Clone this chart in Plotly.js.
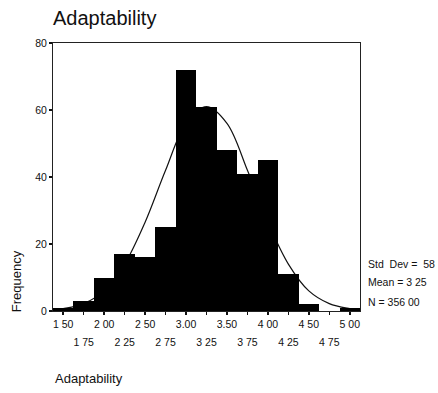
<!DOCTYPE html>
<html>
<head>
<meta charset="utf-8">
<script src="https://cdn.plot.ly/plotly-3.0.1.min.js"></script>
<style>html,body{margin:0;padding:0;background:#fff;}#chart{width:438px;height:393px;}</style>
</head>
<body>
<div id="chart"></div>
<script>
// Histogram bins (bin centres, width 0.25) and frequencies
const binCenters = [1.50, 1.75, 2.00, 2.25, 2.50, 2.75, 3.00, 3.25, 3.50, 3.75, 4.00, 4.25, 4.50, 4.75, 5.00];
const frequencies = [1, 3, 10, 17, 16, 25, 72, 61, 48, 41, 45, 11, 2, 0, 1];

// Tick labels as printed (two staggered rows)
const row1Vals = [1.50, 2.00, 2.50, 3.00, 3.50, 4.00, 4.50, 5.00];
const row1Text = ['1 50', '2 00', '2 50', '3.00', '3.50', '4 00', '4 50', '5 00'];
const row2Vals = [1.75, 2.25, 2.75, 3.25, 3.75, 4.25, 4.75];
const row2Text = ['1 75', '2 25', '2 75', '3 25', '3 75', '4 25', '4 75'];

// Normal curve points
const curveX = [1.375, 1.50, 1.75, 2.00, 2.25, 2.50, 2.75, 3.00, 3.25, 3.50, 3.75, 4.00, 4.25, 4.50, 4.75, 5.00, 5.125];
const curveY = [0.3, 0.7, 2.2, 6.0, 14.0, 26.5, 42.0, 56.0, 61.0, 56.0, 42.0, 26.5, 14.0, 6.0, 2.2, 0.7, 0.3];

// Statistics box
const statLines = ['Std  Dev =  58', 'Mean = 3 25', 'N = 356 00'];

const xRange = [1.375, 5.125];
const yRange = [0, 80];
const font = 'Arial, "Liberation Sans", sans-serif';

const traces = [
  {
    type: 'scatter', mode: 'lines', x: curveX, y: curveY,
    xaxis: 'x', yaxis: 'y',
    line: {color: '#111', width: 1.2, shape: 'spline', smoothing: 1},
    hoverinfo: 'skip', showlegend: false
  },
  {
    type: 'bar', x: binCenters, y: frequencies, width: 0.25,
    xaxis: 'x3', yaxis: 'y2',
    marker: {color: '#000', line: {width: 0}},
    showlegend: false
  },
  {
    type: 'scatter', mode: 'markers', x: row2Vals, y: row2Vals.map(() => null),
    xaxis: 'x2', yaxis: 'y', showlegend: false, hoverinfo: 'skip'
  }
];

const statY = [0.175, 0.108, 0.034];
const annotations = statLines.map((t, i) => ({
  text: t, xref: 'paper', yref: 'paper', x: 1.02, y: statY[i],
  xanchor: 'left', yanchor: 'middle', showarrow: false,
  font: {family: font, size: 10.5, color: '#111'}
}));
annotations.push({
  text: 'Frequency', xref: 'paper', yref: 'paper', x: -0.118, y: 0.11,
  xanchor: 'center', yanchor: 'middle', textangle: -90, showarrow: false,
  font: {family: font, size: 13, color: '#111'}
});
annotations.push({
  text: 'Adaptability', xref: 'paper', yref: 'paper', x: 0, y: -0.25,
  xanchor: 'left', yanchor: 'middle', showarrow: false,
  font: {family: font, size: 13, color: '#111'}
});

const tickFont = {family: font, size: 10.5, color: '#111'};

const layout = {
  width: 438, height: 393,
  margin: {l: 53, r: 78, t: 43, b: 82},
  paper_bgcolor: '#fff', plot_bgcolor: '#fff',
  bargap: 0,
  title: {
    text: 'Adaptability', x: 53 / 438, xref: 'container', xanchor: 'left',
    y: 1 - 18 / 393, yref: 'container', yanchor: 'middle',
    font: {family: font, size: 20, color: '#111'}
  },
  xaxis: {
    range: xRange, tickmode: 'array', tickvals: row1Vals, ticktext: row1Text,
    ticks: 'outside', ticklen: 3, tickcolor: '#111', tickwidth: 1.5,
    showgrid: false, zeroline: false,
    showline: true, linecolor: '#222', linewidth: 1, mirror: true,
    tickfont: tickFont, fixedrange: true
  },
  xaxis2: {
    overlaying: 'x', anchor: 'y', side: 'bottom',
    range: xRange, tickmode: 'array', tickvals: row2Vals, ticktext: row2Text,
    ticks: 'outside', ticklen: 3, tickcolor: '#111', tickwidth: 1.5,
    ticklabelstandoff: 18,
    showgrid: false, zeroline: false, showline: false,
    tickfont: tickFont, fixedrange: true
  },
  xaxis3: {
    overlaying: 'x', anchor: 'y2', range: xRange,
    showticklabels: false, ticks: '', showgrid: false, zeroline: false, showline: false,
    fixedrange: true
  },
  yaxis: {
    range: yRange, tickmode: 'array', tickvals: [0, 20, 40, 60, 80],
    ticks: 'outside', ticklen: 3, tickcolor: '#111', tickwidth: 1.5,
    showgrid: false, zeroline: false,
    showline: true, linecolor: '#222', linewidth: 1, mirror: true,
    tickfont: tickFont, fixedrange: true
  },
  yaxis2: {
    overlaying: 'y', anchor: 'x3', range: yRange,
    showticklabels: false, ticks: '', showgrid: false, zeroline: false, showline: false,
    fixedrange: true
  },
  annotations: annotations,
  showlegend: false
};

Plotly.newPlot('chart', traces, layout, {displayModeBar: false, staticPlot: true});
</script>
</body>
</html>
